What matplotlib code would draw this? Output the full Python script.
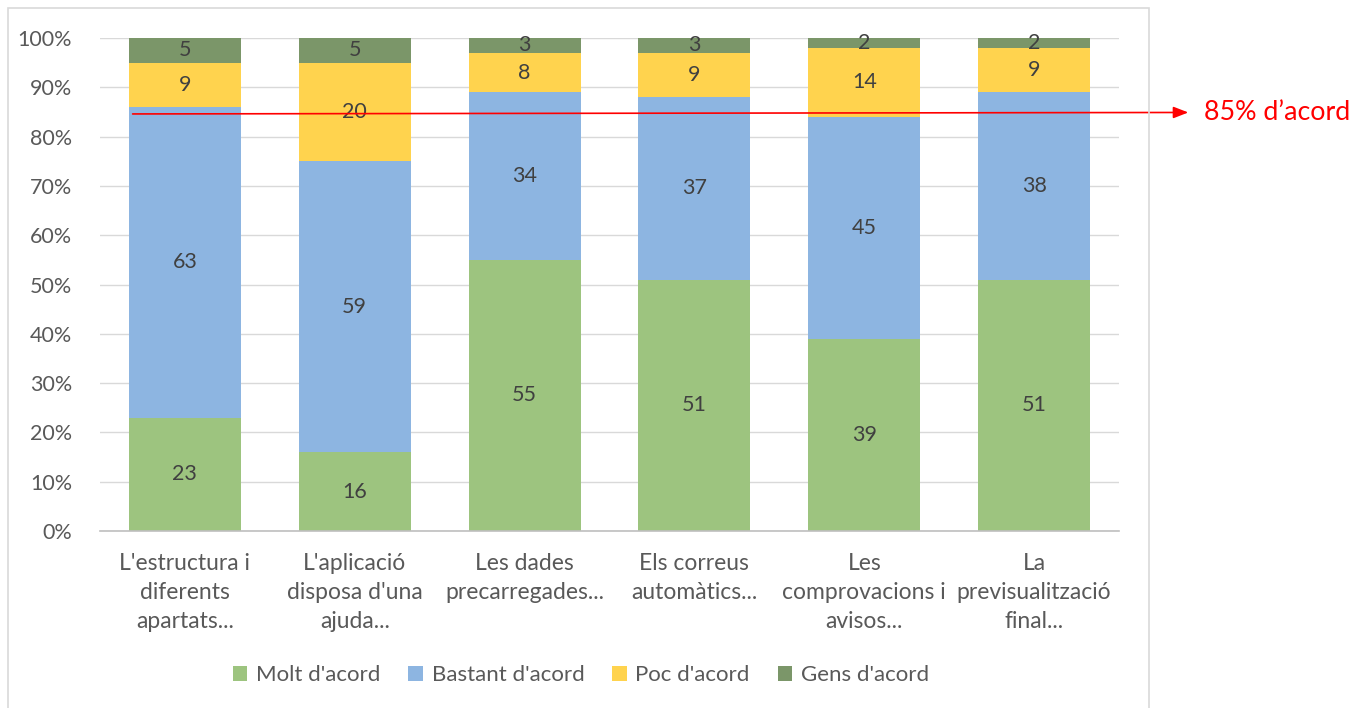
import matplotlib.pyplot as plt
import numpy as np
from matplotlib.patches import Rectangle
from matplotlib.transforms import blended_transform_factory


CATEGORIES = [
    "L'estructura i\ndiferents\napartats...",
    "L'aplicació\ndisposa d'una\najuda...",
    "Les dades\nprecarregades...",
    "Els correus\nautomàtics...",
    "Les\ncomprovacions i\navisos...",
    "La\nprevisualització\nfinal...",
]

MOLT = [23, 16, 55, 51, 39, 51]
BASTANT = [63, 59, 34, 37, 45, 38]
POC = [9, 20, 8, 9, 14, 9]
GENS = [5, 5, 3, 3, 2, 2]

SERIES_NAMES = ["Molt d'acord", "Bastant d'acord", "Poc d'acord", "Gens d'acord"]
SERIES_COLORS = ["#9DC47F", "#8DB5E1", "#FFD34E", "#7B9669"]

THRESHOLD = 84.6
THRESHOLD_LABEL = "85% d\u2019acord"

plt.rcParams["font.family"] = ["Lato", "DejaVu Sans"]

TEXT_GREY = "#595959"
LABEL_GREY = "#404040"


def main():
    fig = plt.figure(figsize=(13.7, 7.08), dpi=100)
    ax = fig.add_axes([0.073, 0.25, 0.7438, 0.6963])

    # chart frame like the office chart area
    fig.patches.append(
        Rectangle(
            (0.0055, -0.01), 0.8335, 0.999,
            transform=fig.transFigure,
            fill=False,
            edgecolor="#d9d9d9",
            linewidth=1.2,
        )
    )

    x = np.arange(len(CATEGORIES))
    bottom = np.zeros(len(CATEGORIES))
    series = [MOLT, BASTANT, POC, GENS]

    for values, name, color in zip(series, SERIES_NAMES, SERIES_COLORS):
        values = np.array(values, dtype=float)
        ax.bar(x, values, 0.66, bottom=bottom, color=color, label=name, zorder=2)
        for xi, b, v in zip(x, bottom, values):
            ax.text(
                xi, b + v / 2, f"{int(v)}",
                ha="center", va="center",
                fontsize=15.5, color=LABEL_GREY, zorder=4,
            )
        bottom += values

    ax.set_xlim(-0.5, len(CATEGORIES) - 0.5)
    ax.set_ylim(0, 100)
    ax.set_yticks(np.arange(0, 101, 10))
    ax.set_yticklabels([f"{v}%" for v in range(0, 101, 10)])
    ax.set_xticks(x)
    ax.set_xticklabels(CATEGORIES, linespacing=1.45)

    ax.tick_params(axis="both", length=0, colors=TEXT_GREY)
    ax.tick_params(axis="y", pad=20, labelsize=15.5)
    ax.tick_params(axis="x", pad=16, labelsize=16.5)

    ax.grid(axis="y", color="#d9d9d9", linewidth=1, zorder=0)
    ax.set_axisbelow(True)

    for side in ["top", "right", "left"]:
        ax.spines[side].set_visible(False)
    ax.spines["bottom"].set_color("#bfbfbf")
    ax.spines["bottom"].set_linewidth(1.2)

    # threshold arrow from the first bar to outside the plot
    trans = blended_transform_factory(ax.transAxes, ax.transData)
    ax.annotate(
        "",
        xy=(1.068, THRESHOLD + 0.3),
        xytext=(0.032, THRESHOLD),
        xycoords=trans,
        textcoords=trans,
        arrowprops=dict(
            arrowstyle="-|>,head_length=0.9,head_width=0.35",
            color="#FF0000",
            linewidth=1.2,
            shrinkA=0,
            shrinkB=0,
        ),
        annotation_clip=False,
        zorder=5,
    )
    ax.text(
        1.083, THRESHOLD + 0.3, THRESHOLD_LABEL,
        transform=trans,
        ha="left", va="center",
        fontsize=19.3, color="#FF0000",
        clip_on=False,
    )

    fig.legend(
        loc="center",
        bbox_to_anchor=(0.424, 0.046),
        ncol=4,
        frameon=False,
        fontsize=16,
        handlelength=0.65,
        handleheight=0.65,
        handletextpad=0.4,
        columnspacing=1.25,
        labelcolor=TEXT_GREY,
    )

    fig.savefig("out.png", dpi=100)
    plt.close(fig)


if __name__ == "__main__":
    main()
